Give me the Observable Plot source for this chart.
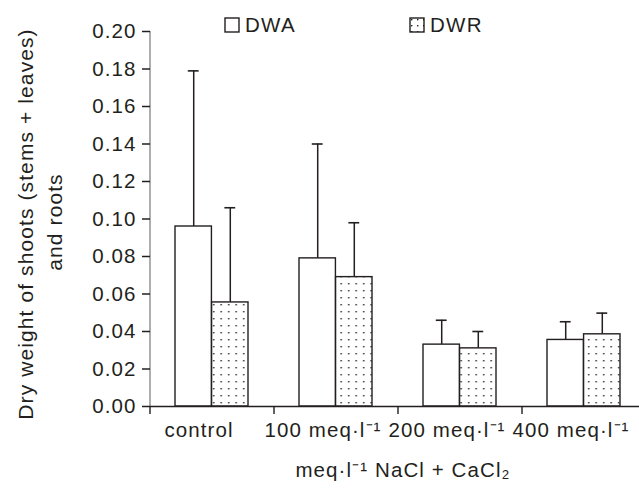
<!DOCTYPE html>
<html>
<head>
<meta charset="utf-8">
<script src="https://cdn.jsdelivr.net/npm/d3@7"></script>
<script src="https://cdn.jsdelivr.net/npm/@observablehq/plot@0.6"></script>
<style>
  body { margin: 0; background: #fff; }
  #wrap { position: relative; width: 639px; height: 489px; font-family: "Liberation Sans", Arial, sans-serif; color: #231f20; }
  #wrap svg text { letter-spacing: 1.1px; }
  .leg { position: absolute; top: 13px; font-size: 20.5px; letter-spacing: 1.3px; display: flex; align-items: center; }
  .leg svg { margin-right: 5px; }
</style>
</head>
<body>
<div id="wrap"></div>
<script>
const categories = ["control", "100 meq·l⁻¹", "200 meq·l⁻¹", "400 meq·l⁻¹"];
const dwa = [0.096, 0.079, 0.033, 0.0355];
const dwaErr = [0.083, 0.061, 0.013, 0.0097];
const dwr = [0.0555, 0.069, 0.031, 0.0385];
const dwrErr = [0.0505, 0.029, 0.009, 0.0113];
const yTicks = [0, 0.02, 0.04, 0.06, 0.08, 0.10, 0.12, 0.14, 0.16, 0.18, 0.20];
const yTitle1 = "Dry weight of shoots (stems + leaves)";
const yTitle2 = "and roots";
const xTitle = "meq·l⁻¹ NaCl + CaCl₂";
const seriesNames = ["DWA", "DWR"];

const rowsA = categories.map((c, i) => ({cat: c, v: dwa[i], top: dwa[i] + dwaErr[i]}));
const rowsR = categories.map((c, i) => ({cat: c, v: dwr[i], top: dwr[i] + dwrErr[i]}));

const left = 150, right = 646;
const pIn = 0.41, pOut = 0.205;
const step = (right - left) / categories.length;
const bw = step * (1 - pIn);
const half = bw / 2, quarter = bw / 4;
const capHalf = 5.5;
const ink = "#231f20";
const fs = 20.5;

const plot = Plot.plot({
  width: 639,
  height: 489,
  marginLeft: left,
  marginRight: 0,
  marginTop: 31,
  marginBottom: 83,
  style: {fontFamily: "Liberation Sans, Arial, sans-serif", color: ink, background: "transparent"},
  x: {domain: categories, range: [left, right], paddingInner: pIn, paddingOuter: pOut, axis: null},
  y: {domain: [0, 0.2], axis: null},
  marks: [
    // y axis line
    Plot.ruleX([categories[0]], {x: d => d, dx: -step / 2, y1: 0, y2: 0.2, stroke: "#777", strokeWidth: 1.2}),
    Plot.axisY({ticks: yTicks, tickFormat: d3.format(".2f"), tickSize: 8, tickPadding: 6, fontSize: fs, stroke: ink, strokeWidth: 1.5, label: null}),
    // error bars
    Plot.ruleX(rowsA, {x: "cat", y1: "v", y2: "top", dx: -quarter, stroke: ink, strokeWidth: 1.5}),
    Plot.tickY(rowsA, {x: "cat", y: "top", insetLeft: half - quarter - capHalf, insetRight: half + quarter - capHalf, stroke: ink, strokeWidth: 1.6}),
    Plot.ruleX(rowsR, {x: "cat", y1: "v", y2: "top", dx: quarter, stroke: ink, strokeWidth: 1.5}),
    Plot.tickY(rowsR, {x: "cat", y: "top", insetLeft: half + quarter - capHalf, insetRight: half - quarter - capHalf, stroke: ink, strokeWidth: 1.6}),
    // bars
    Plot.barY(rowsA, {x: "cat", y: "v", insetRight: half, fill: "white", stroke: ink, strokeWidth: 1.4}),
    Plot.barY(rowsR, {x: "cat", y: "v", insetLeft: half, fill: "url(#dots)", stroke: ink, strokeWidth: 1.4}),
    // baseline
    Plot.ruleY([0], {stroke: ink, strokeWidth: 1.4}),
    // boundary ticks
    Plot.axisX({tickSize: 8, dx: -step / 2, tickFormat: () => "", stroke: ink, strokeWidth: 1.4, label: null}),
    // category labels
    Plot.axisX({tickSize: 0, tickPadding: 16, dx: -13, fontSize: fs, label: null}),
    // titles
    Plot.text([xTitle], {frameAnchor: "bottom", dy: 70, dx: 8, fontSize: fs, fill: ink}),
    Plot.text([yTitle1], {frameAnchor: "left", textAnchor: "middle", dx: -124, dy: 5, rotate: -90, fontSize: 21, fill: ink}),
    Plot.text([yTitle2], {frameAnchor: "left", textAnchor: "middle", dx: -95, dy: 3, rotate: -90, fontSize: 21, fill: ink})
  ]
});

const ns = "http://www.w3.org/2000/svg";
const defs = document.createElementNS(ns, "defs");
defs.innerHTML = '<pattern id="dots" patternUnits="userSpaceOnUse" width="7.5" height="7"><rect width="7.5" height="7" fill="white"/><rect x="3" y="3" width="1.4" height="1.4" fill="#231f20"/></pattern>';
plot.insertBefore(defs, plot.firstChild);

const wrap = document.getElementById("wrap");
wrap.appendChild(plot);

const legPos = [224, 409];
seriesNames.forEach((name, i) => {
  const d = document.createElement("div");
  d.className = "leg";
  d.style.left = legPos[i] + "px";
  const fill = i === 0 ? "white" : "url(#dotsL)";
  d.innerHTML = `<svg width="16" height="16"><defs><pattern id="dotsL" patternUnits="userSpaceOnUse" width="6" height="6"><rect width="6" height="6" fill="white"/><rect x="2" y="2" width="1.4" height="1.4" fill="#231f20"/></pattern></defs><rect x="1" y="1" width="14" height="14" fill="${fill}" stroke="#231f20" stroke-width="1.4"/></svg><span>${name}</span>`;
  wrap.appendChild(d);
});
</script>
</body>
</html>
